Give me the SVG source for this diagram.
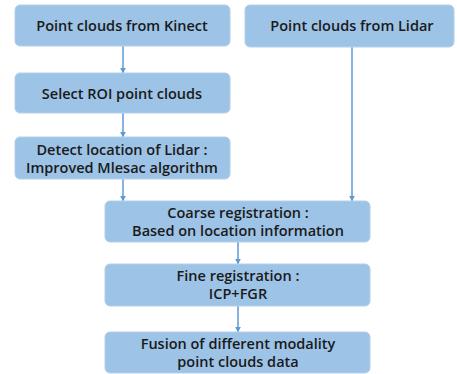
<svg xmlns="http://www.w3.org/2000/svg" width="457" height="374" viewBox="0 0 457 374">
<defs>
<style>
.box{fill:#9dc3e6;stroke:#b4d0ea;stroke-width:1}
.t{font-family:"Open Sans","Liberation Sans",sans-serif;font-weight:600;font-size:14.5px;fill:#1a1a1a;text-anchor:middle}
.c{stroke:#5b9bd5;stroke-width:1.5;fill:none;marker-end:url(#ah)}
</style>
<marker id="ah" viewBox="0 0 10 10" refX="9" refY="5" markerWidth="6" markerHeight="6" orient="auto" markerUnits="userSpaceOnUse"><path d="M0,0 L10,5 L0,10 z" fill="#5b9bd5"/></marker>
</defs>
<rect width="457" height="374" fill="#ffffff"/>
<g id="connectors">
<line class="c" x1="123" y1="46" x2="123" y2="73"/>
<line class="c" x1="123" y1="113" x2="123" y2="137"/>
<line class="c" x1="123" y1="179" x2="123" y2="201"/>
<line class="c" x1="352" y1="47" x2="352" y2="201"/>
<line class="c" x1="238" y1="242" x2="238" y2="264"/>
<line class="c" x1="238" y1="306" x2="238" y2="332"/>
</g>
<g id="kinect"><rect class="box" x="15" y="5" width="215" height="41" rx="5"/><text class="t" x="122" y="31">Point clouds from Kinect</text></g>
<g id="lidar"><rect class="box" x="245" y="5" width="209" height="42" rx="5"/><text class="t" x="352" y="31">Point clouds from Lidar</text></g>
<g id="roi"><rect class="box" x="15" y="73" width="215" height="40" rx="5"/><text class="t" x="122" y="99">Select ROI point clouds</text></g>
<g id="detect"><rect class="box" x="15" y="137" width="215" height="42" rx="5"/><text class="t" x="122" y="155">Detect location of Lidar :</text><text class="t" x="122" y="173">Improved Mlesac algorithm</text></g>
<g id="coarse"><rect class="box" x="105" y="201" width="265" height="41" rx="5"/><text class="t" x="238" y="218">Coarse registration :</text><text class="t" x="238" y="236">Based on location information</text></g>
<g id="fine"><rect class="box" x="105" y="264" width="265" height="42" rx="5"/><text class="t" x="238" y="281">Fine registration :</text><text class="t" x="238" y="299">ICP+FGR</text></g>
<g id="fusion"><rect class="box" x="105" y="332" width="265" height="41" rx="5"/><text class="t" x="238" y="349">Fusion of different modality</text><text class="t" x="238" y="367">point clouds data</text></g>
</svg>
